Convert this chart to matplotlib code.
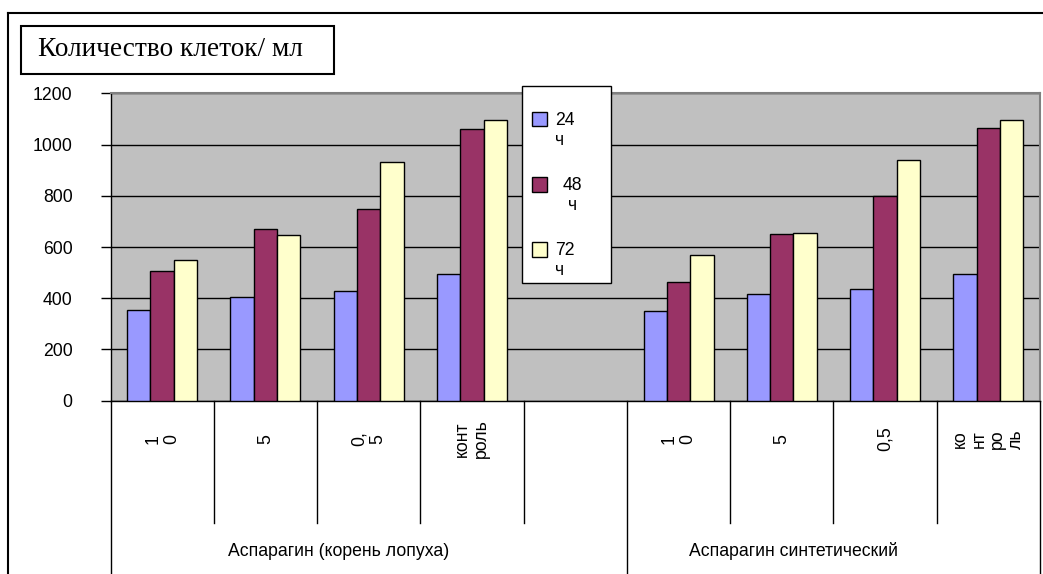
import numpy as np
import matplotlib
matplotlib.use("Agg")
from matplotlib import pyplot as plt
from matplotlib.patches import Rectangle
from matplotlib.lines import Line2D

plt.rcParams["font.family"] = ["Liberation Sans", "DejaVu Sans"]

# categories along the x axis, the fifth slot is an empty spacer between groups
categories = ["1\n0", "5", "0,\n5", "конт\nроль", "", "1\n0", "5", "0,5", "ко\nнт\nро\nль"]
groups = ["Аспарагин (корень лопуха)", "Аспарагин синтетический"]
series_names = ["24 ч", "48 ч", "72 ч"]

cells_24h = [355, 405, 430, 495, np.nan, 350, 415, 435, 495]
cells_48h = [505, 670, 750, 1060, np.nan, 465, 650, 800, 1065]
cells_72h = [550, 645, 930, 1095, np.nan, 567, 655, 940, 1095]

colors = ["#9999FF", "#993366", "#FFFFCC"]

W, H = 1043, 574
fig = plt.figure(figsize=(W / 100, H / 100), dpi=100)


def fx(px):
    return px / W


def fy(py):
    return 1 - py / H


# plot area in pixels
left, right, top, bottom = 110.5, 1040, 93.3, 400.7
ax = fig.add_axes([fx(left), fy(bottom), (right - left) / W, (bottom - top) / H])
ax.set_facecolor("#C0C0C0")

x = np.arange(len(categories))
bw = 0.226
for k, (vals, col) in enumerate(zip([cells_24h, cells_48h, cells_72h], colors)):
    ax.bar(x + (k - 1) * bw, vals, width=bw, color=col, edgecolor="black",
           linewidth=1.0, zorder=3)

ax.set_xlim(-0.5, len(categories) - 0.5)
ax.set_ylim(0, 1200)
ax.set_yticks(range(0, 1201, 200))
ax.tick_params(axis="y", length=7.2, width=1, pad=20, labelsize=12.7, direction="out")
ax.set_xticks([])
ax.yaxis.grid(True, color="black", linewidth=1.0, zorder=0)
ax.set_axisbelow(True)
for s in ["top", "right"]:
    ax.spines[s].set_color("#808080")
    ax.spines[s].set_linewidth(1.5)
for s in ["left", "bottom"]:
    ax.spines[s].set_color("black")
    ax.spines[s].set_linewidth(1.0)

# category dividers and group dividers below the axis
span = bottom - top
trans = ax.get_xaxis_transform()
cat_level = -(523 - bottom) / span
bounds = np.arange(len(categories) + 1) - 0.5
group_bounds = [-0.5, 4.5, len(categories) - 0.5]
for b in bounds:
    low = -0.7 if b in group_bounds else cat_level
    ax.add_line(Line2D([b, b], [0, low], transform=trans, color="black",
                       linewidth=1.0, clip_on=False))

for i, lab in enumerate(categories):
    ax.text(i, -(439 - bottom) / span, lab, transform=trans, rotation=90,
            ha="center", va="center", multialignment="center", fontsize=12.7,
            linespacing=1.15)

group_x = [1.71, 6.11]
for gx, g in zip(group_x, groups):
    ax.text(gx, -(551 - bottom) / span, g, transform=trans, ha="center",
            va="center", fontsize=12.7)

# legend box drawn by hand: value on one line, unit wrapped below it
fig.add_artist(Rectangle((fx(521.7), fy(283.3)), (611 - 521.7) / W, (283.3 - 85.7) / H,
                         transform=fig.transFigure, facecolor="white",
                         edgecolor="black", linewidth=1.0, zorder=5))
text_shift = [0, 7.5, 0]
unit_shift = [0, 13, 0]
for i, (name, col) in enumerate(zip(series_names, colors)):
    yc = 119.3 + 65.3 * i
    fig.add_artist(Rectangle((fx(532), fy(yc + 7)), 14.5 / W, 14.5 / H,
                             transform=fig.transFigure, facecolor=col,
                             edgecolor="black", linewidth=1.0, zorder=6))
    value, unit = name.split(" ")
    fig.text(fx(555 + text_shift[i]), fy(yc + 5.5), value, fontsize=12.7,
             ha="left", va="baseline", zorder=7)
    fig.text(fx(555 + unit_shift[i]), fy(yc + 25.5), unit, fontsize=12.7,
             ha="left", va="baseline", zorder=7)

# outer frame (top and left edges) and title box
fig.add_artist(Line2D([fx(8), 1], [fy(13), fy(13)], transform=fig.transFigure,
                      color="black", linewidth=1.5))
fig.add_artist(Line2D([fx(8), fx(8)], [fy(13), 0], transform=fig.transFigure,
                      color="black", linewidth=1.5))
fig.add_artist(Rectangle((fx(20.7), fy(74)), (334 - 20.7) / W, 48 / H,
                         transform=fig.transFigure, facecolor="white",
                         edgecolor="black", linewidth=1.5))
fig.text(fx(38), fy(50), "Количество клеток/ мл", family="Liberation Serif",
         fontsize=19.6, ha="left", va="center")

fig.savefig("out.png", dpi=100)
